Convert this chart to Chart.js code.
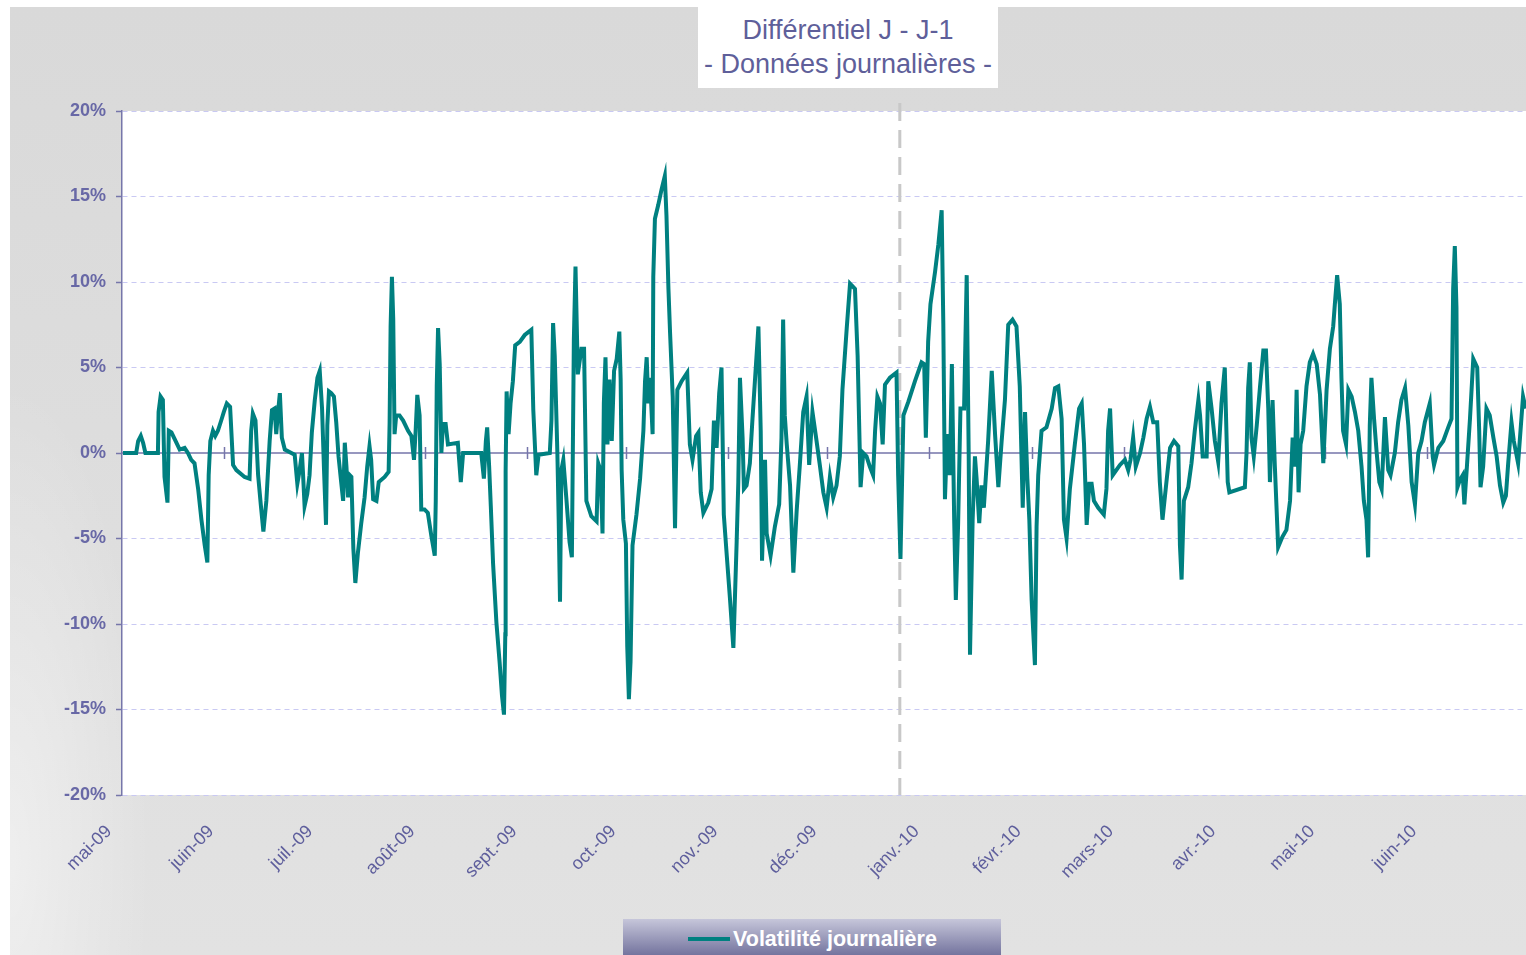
<!DOCTYPE html>
<html lang="fr">
<head>
    <meta charset="UTF-8">
    <title>Différentiel J - J-1</title>
    <script src="https://cdn.jsdelivr.net/npm/chart.js"></script>
    <style>
        html, body { margin: 0; padding: 0; background: #fff; overflow: hidden; }
        body { width: 1526px; height: 955px; position: relative; font-family: 'Liberation Sans', Arial, sans-serif; }
        .panel {
            position: absolute; left: 10px; top: 7px; right: 0; bottom: 0;
            background:
                radial-gradient(ellipse 140px 480px at 0% 90%, rgba(255,255,255,0.45), rgba(255,255,255,0)),
                linear-gradient(#d9d9d9, #e2e2e2);
        }
        #chart { position: absolute; left: 0; top: 0; }
        .title-box {
            position: absolute; left: 698px; top: 7px; width: 300px; height: 81px;
            box-sizing: border-box; padding-top: 7px;
            background: #fff; text-align: center; color: #5f5f9a;
            font-size: 27px; line-height: 33.5px;
        }
        .legend-box {
            position: absolute; left: 623px; top: 919px; width: 378px; height: 36px;
            background: linear-gradient(#c6c6da, #74749e);
        }
        .legend-line { position: absolute; left: 65px; top: 18px; width: 42px; height: 4px; background: #008080; }
        .legend-text {
            position: absolute; left: 110px; top: 0; line-height: 40px;
            color: #fff; font-weight: bold; font-size: 21.5px;
        }
    </style>
</head>
<body>
    <div class="panel"></div>
    <canvas id="chart" width="1526" height="955"></canvas>
    <div class="title-box">Différentiel J - J-1<br>- Données journalières -</div>
    <div class="legend-box">
        <span class="legend-line"></span>
        <span class="legend-text">Volatilité journalière</span>
    </div>

    <script>
        // Mois affichés sous l'axe (le premier = 1er mai 2009)
        const monthLabels = ['mai-09', 'juin-09', 'juil.-09', 'août-09', 'sept.-09', 'oct.-09', 'nov.-09',
            'déc.-09', 'janv.-10', 'févr.-10', 'mars-10', 'avr.-10', 'mai-10', 'juin-10'];
        const yTickValues = [-20, -15, -10, -5, 0, 5, 10, 15, 20];
        const markerDay = 236; // trait pointillé gris fin décembre

        // jours depuis le 1er mai 2009
        const dayIndex = [
            0.3,4.3,4.9,5.7,6.4,7.1,10.9,11.1,11.7,12.4,12.9,13.8,14.2,15.0,16.5,17.5,19.0,20.0,21.0,22.0,
            23.1,24.1,25.1,25.9,26.3,26.8,27.6,28.3,29.1,30.1,30.9,31.8,32.8,33.7,34.7,37.2,38.7,39.2,39.7,40.5,
            41.3,42.1,42.9,43.8,44.8,45.5,46.3,46.8,47.3,47.9,48.5,49.4,52.4,53.2,53.9,54.6,54.9,55.4,56.2,56.9,
            57.6,58.5,59.3,60.0,60.7,61.3,61.9,62.3,62.8,63.5,64.3,65.0,65.7,66.5,67.1,67.6,68.1,68.6,69.1,69.6,
            70.2,70.8,71.6,72.6,73.6,74.4,75.1,75.6,76.2,77.2,77.9,79.7,80.9,81.2,81.5,81.9,82.3,82.7,83.2,84.2,
            85.3,86.8,87.8,88.6,89.1,89.6,90.3,90.8,91.8,92.8,93.9,94.9,95.2,95.5,95.9,96.4,96.9,97.4,98.2,98.9,
            101.9,102.8,103.5,109.0,109.8,110.4,110.8,111.4,111.9,112.6,113.6,114.6,115.3,115.9,116.3,116.4,116.7,117.3,117.9,118.6,
            119.3,120.7,122.2,124.2,124.8,125.7,126.4,129.8,130.3,130.8,131.3,132.1,132.5,132.9,133.3,133.9,134.8,135.8,136.5,137.1,
            137.6,138.3,139.4,140.2,140.9,142.4,
            144.0,144.5,145.2,145.8,146.2,146.7,147.3,147.9,148.6,149.3,150.1,150.9,151.3,151.6,152.1,152.9,153.3,153.8,154.3,154.9,
            156.1,157.2,158.2,158.7,159.2,159.7,160.2,161.0,161.2,161.7,162.7,163.7,164.7,165.2,165.8,166.3,167.1,167.8,168.5,169.8,
            171.5,172.3,173.1,174.2,174.9,175.6,176.4,177.9,178.9,179.6,180.4,181.2,181.9,182.6,183.5,184.5,185.5,186.5,187.0,187.5,
            188.3,188.7,189.5,190.5,191.3,192.1,193.1,193.8,194.2,195.1,195.6,196.8,198.1,199.4,200.1,200.6,201.1,201.7,202.7,203.7,
            204.7,205.7,206.7,207.7,208.5,209.5,210.6,211.8,212.8,213.8,214.8,215.8,216.8,217.8,218.6,219.9,220.9,222.4,223.2,224.1,
            224.9,225.9,226.9,227.9,228.5,229.2,230.0,230.8,231.5,233.0,235.0,235.5,236.2,237.1,238.6,240.6,242.6,243.4,243.9,244.6,
            245.3,246.7,247.7,248.7,249.2,249.7,250.4,251.2,251.8,252.5,253.0,253.7,254.4,255.5,256.3,256.9,257.3,258.1,258.8,259.3,
            260.1,260.8,261.5,262.8,263.9,264.9,265.9,266.9,267.9,268.9,270.2,271.4,272.4,273.3,274.0,274.7,275.3,276.0,277.0,277.5,
            278.0,279.0,280.5,282.1,283.1,284.1,285.1,285.8,286.6,
            287.6,289.1,290.4,291.2,291.9,292.7,293.5,294.2,294.9,296.2,297.9,298.7,299.2,299.8,300.6,302.8,304.3,305.3,306.0,306.8,
            307.6,308.9,309.9,310.9,311.9,312.9,314.1,314.9,315.7,316.9,318.0,319.2,320.5,321.0,321.5,322.2,323.5,324.5,325.5,326.6,
            327.1,327.9,329.1,329.6,330.6,331.6,332.6,333.6,334.6,335.5,336.0,340.7,341.2,341.7,342.2,342.7,343.4,344.3,345.3,346.3,
            347.1,347.8,348.3,349.1,349.8,350.8,352.1,353.3,354.4,355.2,355.9,356.4,357.0,357.6,358.4,359.4,360.4,361.4,362.5,363.5,
            364.5,365.5,366.5,367.5,368.0,368.7,369.5,370.0,370.5,371.4,372.1,373.1,374.1,375.1,376.1,376.8,377.6,378.1,378.6,379.1,
            379.9,380.7,381.5,382.2,383.2,384.2,384.9,386.2,387.2,388.2,389.3,390.3,391.3,392.3,393.3,394.3,395.3,396.8,397.7,398.1,
            399.4,400.9,402.4,403.4,403.9,404.4,404.9,405.2,405.9,406.8,407.3,408.0,409.0,410.0,411.2,411.8,412.2,413.0,414.0,415.0,
            416.1,417.1,418.1,419.1,419.9,420.6,421.6,422.3,423.6,425.1,425.9
        ];

        // différentiel J - J-1, en %
        const volatility = [
            0,0,0.7,1.0,0.6,0,0,2.4,3.3,3.1,-1.4,-2.9,1.3,1.2,0.6,0.2,0.3,0,-0.4,-0.6,
            -2.1,-3.9,-5.4,-6.4,-1.3,0.7,1.3,1.0,1.3,1.9,2.4,2.9,2.7,-0.7,-1.0,-1.4,-1.5,1.3,2.3,1.9,
            -1.3,-3.0,-4.6,-2.8,0.7,2.5,2.6,1.1,2.3,3.5,0.9,0.2,-0.1,-1.8,-1.0,0,-1.1,-3.1,-2.4,-1.3,
            1.2,3.1,4.4,4.8,2.6,-1.0,-4.2,1.6,3.6,3.5,3.3,1.8,-0.2,-1.7,-2.8,0.6,-0.8,-2.6,-1.3,-1.4,
            -5.6,-7.6,-5.8,-4.1,-2.6,-0.8,0.4,-0.4,-2.7,-2.8,-1.7,-1.4,-1.1,1.8,7.4,10.3,7.8,1.1,2.2,2.2,
            1.9,1.3,1.0,-0.4,1.3,3.4,2.2,-3.3,-3.3,-3.5,-4.9,-6.0,-2.8,3.9,7.3,5.2,0,1.7,1.7,0.5,
            0.6,-1.7,0,0,-1.5,0.7,1.5,-0.8,-3.1,-6.5,-9.9,-12.3,-14.2,-15.3,-10.6,-1.1,3.6,1.1,2.9,4.2,
            6.3,6.5,6.9,7.2,2.5,-1.3,-0.1,0,1.9,7.6,5.7,0,-3.9,-8.7,-1.0,-0.4,-2.6,-5.2,-6.1,6.6,
            10.9,4.6,6.1,6.1,-2.8,-3.7,
            -4.0,-0.6,-1.0,-4.7,2.9,5.6,0.5,4.3,0.7,4.8,5.5,7.1,4.3,-1.0,-3.9,-5.3,-11.3,-14.4,-12.2,-5.4,
            -3.6,-1.5,1.3,4.2,5.6,2.9,4.4,1.1,10.3,13.7,14.5,15.4,16.2,13.9,9.6,7.0,3.3,-4.4,3.7,4.2,
            4.7,0.5,-0.4,1.0,1.2,-2.3,-3.5,-2.9,-2.1,1.9,0.3,3.5,5.0,-3.6,-6.0,-8.6,-11.4,-5.2,-1.7,4.4,
            0.9,-2.1,-1.9,-0.6,2.0,4.4,7.4,1.3,-6.3,-0.4,-4.7,-6.0,-4.3,-3.0,0.9,7.8,2.2,0.5,-1.9,-7.0,
            -3.4,-0.6,2.4,3.3,-0.7,2.4,0.9,-0.8,-2.3,-3.2,-1.4,-2.6,-1.9,-0.2,3.7,7.3,9.9,9.6,5.7,-2.0,
            0,-0.2,-0.8,-1.3,1.3,3.3,2.9,0.5,4.0,4.4,4.7,-1.3,-6.2,2.2,3.0,4.2,5.3,5.2,0.9,6.5,
            8.7,10.6,12.2,14.2,7.6,-2.7,1.1,-1.3,5.2,-3.9,-8.6,-4.1,2.6,2.6,10.4,0,-11.8,-3.9,-0.2,-1.5,
            -4.1,-1.9,-3.2,0.7,4.8,1.1,-2.0,0.7,3.1,7.5,7.8,7.4,3.9,-3.2,2.4,-1.5,-3.9,-8.6,-12.4,-4.3,
            -1.3,1.3,1.5,2.6,3.8,3.9,2.0,-3.9,-5.0,
            -2.1,0.5,2.6,2.9,0.5,-4.2,-1.8,-1.8,-2.8,-3.2,-3.6,-2.1,1.3,2.6,-1.3,-0.7,-0.4,-1.0,-0.4,0.9,
            -0.8,0,0.9,2.0,2.7,1.8,1.8,-1.7,-3.9,-1.7,0.3,0.7,0.4,-5.4,-7.4,-2.8,-2.0,-0.6,1.3,3.1,
            2.2,-0.2,-0.2,4.2,2.6,0.7,-0.5,2.9,5.0,-1.7,-2.3,-2.0,0,3.8,5.3,0.9,-0.2,1.6,3.9,6.0,
            6.0,2.6,-1.7,3.1,-0.8,-5.5,-4.9,-4.5,-2.8,0.9,-0.8,3.7,-2.3,0.5,1.3,3.9,5.3,5.8,5.2,3.4,
            -0.6,3.7,6.1,7.4,8.7,10.4,8.7,4.4,1.3,0.5,3.7,3.3,2.4,1.3,-0.8,-2.8,-3.9,-6.1,1.6,4.4,
            2.0,0,-1.7,-2.1,2.1,-1.0,-1.3,0,1.8,3.1,3.8,1.6,-1.7,-3.0,0,0.7,1.8,2.9,-0.2,-0.7,
            0.3,0.7,1.5,2.0,9.6,12.1,8.5,-2.0,-1.6,-1.3,-3.0,-1.0,2.0,5.5,5.0,1.3,-2.0,-0.8,2.6,2.2,
            0.9,-0.2,-1.9,-2.9,-2.5,-0.6,1.8,0.7,-0.6,3.3,2.6
        ];

        // position des mois sur l'axe, en jours depuis le 1er mai 2009
        const startDate = Date.UTC(2009, 4, 1);
        const dayOf = (y, m) => Math.round((Date.UTC(y, m, 1) - startDate) / 86400000);
        const monthStarts = monthLabels.map((_, i) => dayOf(2009, 4 + i));
        const lastDay = dayOf(2010, 6);

        const axisColor = '#7676aa';
        const textColor = '#5e5e9c';

        // fond blanc de la zone de tracé, ligne du zéro, trait pointillé
        const decor = {
            id: 'decor',
            beforeDraw(chart) {
                const {ctx, chartArea: a} = chart;
                ctx.save();
                ctx.fillStyle = '#ffffff';
                ctx.fillRect(a.left, a.top, a.right - a.left, a.bottom - a.top);
                ctx.restore();
            },
            beforeDatasetsDraw(chart) {
                const {ctx, chartArea: a, scales: {x, y}} = chart;
                const y0 = y.getPixelForValue(0);
                ctx.save();
                // trait vertical pointillé
                const xm = x.getPixelForValue(markerDay);
                ctx.strokeStyle = '#c8c8c8';
                ctx.lineWidth = 3;
                ctx.setLineDash([18, 9]);
                ctx.beginPath();
                ctx.moveTo(xm, a.top - 8);
                ctx.lineTo(xm, a.bottom);
                ctx.stroke();
                // axe des abscisses sur le zéro
                ctx.setLineDash([]);
                ctx.strokeStyle = axisColor;
                ctx.lineWidth = 1.5;
                ctx.beginPath();
                ctx.moveTo(a.left, y0);
                ctx.lineTo(a.right, y0);
                monthStarts.forEach(d => {
                    if (d <= 0) return;
                    const px = Math.round(x.getPixelForValue(d)) + 0.5;
                    ctx.moveTo(px, y0 - 6);
                    ctx.lineTo(px, y0 + 6);
                });
                ctx.stroke();
                ctx.restore();
            }
        };

        const chart = new Chart(document.getElementById('chart'), {
            type: 'line',
            data: {
                datasets: [{
                    label: 'Volatilité journalière',
                    data: dayIndex.map((d, i) => ({x: d, y: volatility[i]})),
                    borderColor: '#008080',
                    borderWidth: 4,
                    pointRadius: 0,
                    tension: 0,
                    fill: false
                }]
            },
            options: {
                responsive: false,
                animation: false,
                devicePixelRatio: 1,
                layout: { padding: { left: 10, top: 111, right: 0, bottom: 33 } },
                plugins: {
                    legend: { display: false },
                    title: { display: false },
                    tooltip: { enabled: false }
                },
                scales: {
                    x: {
                        type: 'linear',
                        min: 0,
                        max: lastDay,
                        afterBuildTicks: s => { s.ticks = monthStarts.map(v => ({value: v})); },
                        afterFit: s => { s.height = 127; s.paddingLeft = 0; s.paddingRight = 0; },
                        grid: { display: false, drawTicks: false },
                        border: { display: false },
                        ticks: {
                            autoSkip: false,
                            minRotation: 45,
                            maxRotation: 45,
                            padding: 26,
                            labelOffset: -13,
                            color: textColor,
                            font: { family: "'Liberation Sans', Arial, sans-serif", size: 18 },
                            callback: v => monthLabels[monthStarts.indexOf(v)]
                        }
                    },
                    y: {
                        min: yTickValues[0],
                        max: yTickValues[yTickValues.length - 1],
                        afterBuildTicks: s => { s.ticks = yTickValues.map(v => ({value: v})); },
                        afterFit: s => { s.width = 112; },
                        grid: {
                            color: c => (c.tick && c.tick.value === 0) ? 'rgba(0,0,0,0)' : '#c9c9f3',
                            lineWidth: 1,
                            tickColor: axisColor,
                            tickLength: 6,
                            tickWidth: 1.5
                        },
                        border: { display: true, color: axisColor, width: 1.5, dash: [5, 4] },
                        ticks: {
                            padding: 10,
                            color: '#6868a6',
                            font: { family: "'Liberation Sans', Arial, sans-serif", size: 18, weight: 'bold' },
                            callback: v => v + '%'
                        }
                    }
                }
            },
            plugins: [decor]
        });
    </script>
</body>
</html>
